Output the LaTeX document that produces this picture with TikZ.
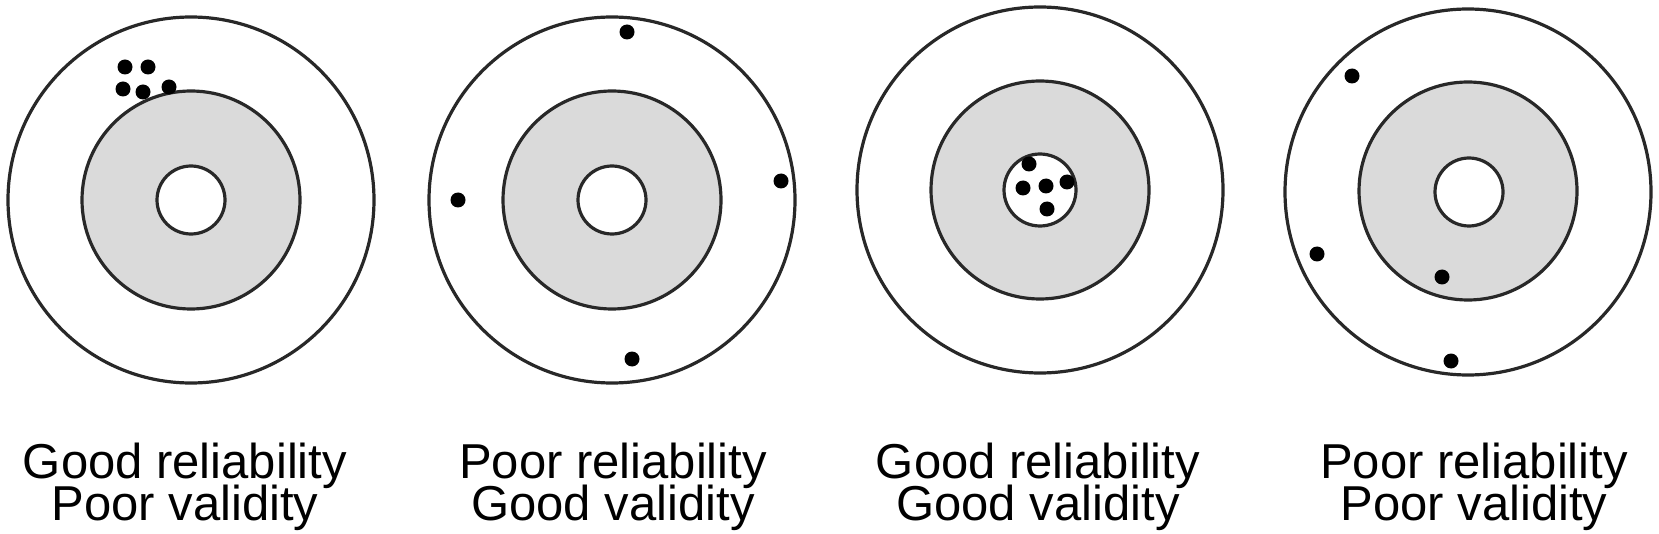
\documentclass[tikz,border=0pt]{standalone}
\usepackage{fontspec}
\setmainfont{Liberation Sans}
\definecolor{ringgray}{RGB}{218,218,218}
\definecolor{ringline}{RGB}{40,40,40}
\newcommand\labelfontsetting{\fontsize{24.5}{21}\selectfont\lineskiplimit-40pt\relax}
\begin{document}
\begin{tikzpicture}[x=0.5pt,y=-0.5pt,
  ring/.style={circle,draw=ringline,line width=1.6pt,inner sep=0pt},
  outerring/.style={ring,minimum size=183pt},
  midring/.style={ring,fill=ringgray,minimum size=109pt},
  innerring/.style={ring,fill=white,minimum size=34pt},
  hit/.style={circle,fill=black,inner sep=0pt,minimum size=7.5pt},
  lbl/.style={anchor=center,align=center,inner sep=0pt,
    font=\labelfontsetting}]
\useasboundingbox (0,0) rectangle (1659,534);
% target 1
\node[outerring] (o1) at (191,200) {};
\node[midring] (m1) at (191,200) {};
\node[innerring] (i1) at (191,200) {};
\node[hit] (d11) at (125,67) {};
\node[hit] (d12) at (148,67) {};
\node[hit] (d13) at (123,89) {};
\node[hit] (d14) at (143,92) {};
\node[hit] (d15) at (169,87) {};
% target 2
\node[outerring] (o2) at (612,200) {};
\node[midring] (m2) at (612,200) {};
\node[innerring] (i2) at (612,200) {};
\node[hit] (d21) at (627,32) {};
\node[hit] (d22) at (458,200) {};
\node[hit] (d23) at (781,181) {};
\node[hit] (d24) at (632,359) {};
% target 3
\node[outerring] (o3) at (1040,190) {};
\node[midring] (m3) at (1040,190) {};
\node[innerring,minimum size=36pt] (i3) at (1040,190) {};
\node[hit] (d31) at (1029,164) {};
\node[hit] (d32) at (1023,188) {};
\node[hit] (d33) at (1046,186) {};
\node[hit] (d34) at (1067,182) {};
\node[hit] (d35) at (1047,209) {};
% target 4
\node[outerring] (o4) at (1468,192) {};
\node[midring] (m4) at (1468,191) {};
\node[innerring] (i4) at (1469,192) {};
\node[hit] (d41) at (1352,76) {};
\node[hit] (d42) at (1317,254) {};
\node[hit] (d43) at (1442,277) {};
\node[hit] (d44) at (1451,361) {};
% labels
\node[lbl] (l1) at (185,487) {Good reliability\\Poor validity};
\node[lbl] (l2) at (613,487) {Poor reliability\\Good validity};
\node[lbl] (l3) at (1038,487) {Good reliability\\Good validity};
\node[lbl] (l4) at (1474,487) {Poor reliability\\Poor validity};
\end{tikzpicture}
\end{document}
